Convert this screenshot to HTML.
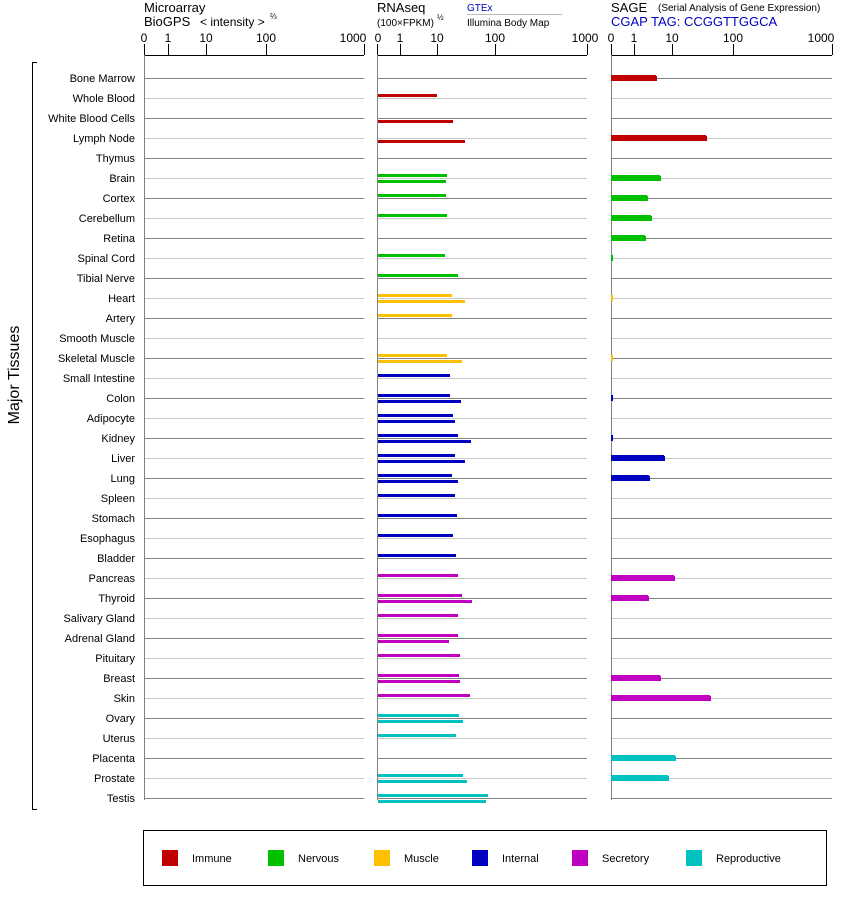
<!DOCTYPE html>
<html><head><meta charset="utf-8"><style>
html,body{margin:0;padding:0;background:#fff;}
svg{display:block;font-family:"Liberation Sans",Arial,sans-serif;}
</style></head><body>
<svg id="s" width="842" height="900" viewBox="0 0 842 900" xmlns="http://www.w3.org/2000/svg">
<g font-size="13" fill="#000">
<text x="144" y="12">Microarray</text>
<text x="144" y="26">BioGPS</text>
<text x="200" y="26" font-size="12">&lt; intensity &gt;</text>
<text x="270" y="19" font-size="8">⅔</text>
<text x="377" y="12">RNAseq</text>
<text x="377" y="26" font-size="10">(100×FPKM)</text>
<text x="437" y="20" font-size="8">½</text>
<text x="467" y="11" font-size="10" fill="#0000c0">GTEx</text>
<line x1="467" y1="14.5" x2="562" y2="14.5" stroke="#bbb"/>
<text x="467" y="26" font-size="10">Illumina Body Map</text>
<text x="611" y="12">SAGE</text>
<text x="658" y="11" font-size="10">(Serial Analysis of Gene Expression)</text>
<text x="611" y="26" font-size="13" fill="#0000c0">CGAP TAG: CCGGTTGGCA</text>
</g>
<g font-size="12" text-anchor="middle">
<text x="144" y="42">0</text><text x="168" y="42">1</text><text x="206" y="42">10</text><text x="266" y="42">100</text><text x="353" y="42">1000</text>
<text x="378" y="42">0</text><text x="400" y="42">1</text><text x="437" y="42">10</text><text x="495" y="42">100</text><text x="585" y="42">1000</text>
<text x="611" y="42">0</text><text x="634" y="42">1</text><text x="672" y="42">10</text><text x="733" y="42">100</text><text x="821" y="42">1000</text>
</g>
<g font-size="11" text-anchor="end" fill="#000">
<text x="135" y="82">Bone Marrow</text>
<text x="135" y="102">Whole Blood</text>
<text x="135" y="122">White Blood Cells</text>
<text x="135" y="142">Lymph Node</text>
<text x="135" y="162">Thymus</text>
<text x="135" y="182">Brain</text>
<text x="135" y="202">Cortex</text>
<text x="135" y="222">Cerebellum</text>
<text x="135" y="242">Retina</text>
<text x="135" y="262">Spinal Cord</text>
<text x="135" y="282">Tibial Nerve</text>
<text x="135" y="302">Heart</text>
<text x="135" y="322">Artery</text>
<text x="135" y="342">Smooth Muscle</text>
<text x="135" y="362">Skeletal Muscle</text>
<text x="135" y="382">Small Intestine</text>
<text x="135" y="402">Colon</text>
<text x="135" y="422">Adipocyte</text>
<text x="135" y="442">Kidney</text>
<text x="135" y="462">Liver</text>
<text x="135" y="482">Lung</text>
<text x="135" y="502">Spleen</text>
<text x="135" y="522">Stomach</text>
<text x="135" y="542">Esophagus</text>
<text x="135" y="562">Bladder</text>
<text x="135" y="582">Pancreas</text>
<text x="135" y="602">Thyroid</text>
<text x="135" y="622">Salivary Gland</text>
<text x="135" y="642">Adrenal Gland</text>
<text x="135" y="662">Pituitary</text>
<text x="135" y="682">Breast</text>
<text x="135" y="702">Skin</text>
<text x="135" y="722">Ovary</text>
<text x="135" y="742">Uterus</text>
<text x="135" y="762">Placenta</text>
<text x="135" y="782">Prostate</text>
<text x="135" y="802">Testis</text>
</g>
<text transform="translate(19,375) rotate(-90)" text-anchor="middle" font-size="16">Major Tissues</text>
<path d="M37 62.5H32.5V809.5H37" fill="none" stroke="#000"/>
<g id="grid"></g>
<rect x="143.5" y="830.5" width="683" height="55" fill="none" stroke="#000"/>
<g font-size="11">
<rect x="162" y="850" width="16" height="16" fill="#c00000"/><text x="192" y="862">Immune</text>
<rect x="268" y="850" width="16" height="16" fill="#00c000"/><text x="298" y="862">Nervous</text>
<rect x="374" y="850" width="16" height="16" fill="#ffc000"/><text x="404" y="862">Muscle</text>
<rect x="472" y="850" width="16" height="16" fill="#0000c0"/><text x="502" y="862">Internal</text>
<rect x="572" y="850" width="16" height="16" fill="#c000c0"/><text x="602" y="862">Secretory</text>
<rect x="686" y="850" width="16" height="16" fill="#00c0c0"/><text x="716" y="862">Reproductive</text>
</g>
</svg>
<script>
var g=document.getElementById('grid'),h='';
var P=[[144,364,[144,168,206,266,364]],[377,587,[377,400,437,495,587]],[611,832,[611,634,672,733,832]]];
P.forEach(function(p){
 h+='<line x1="'+p[0]+'" y1="55.5" x2="'+p[1]+'" y2="55.5" stroke="#000"/>';
 p[2].forEach(function(t){h+='<line x1="'+(t+.5)+'" y1="44" x2="'+(t+.5)+'" y2="55" stroke="#000"/>';});
 for(var i=0;i<37;i++){var y=78+20*i+.5;h+='<line x1="'+p[0]+'" y1="'+y+'" x2="'+p[1]+'" y2="'+y+'" stroke="'+(i%2?'#c8c8c8':'#808080')+'"/>';}
 h+='<line x1="'+(p[0]+.5)+'" y1="55" x2="'+(p[0]+.5)+'" y2="800" stroke="#808080"/>';
});
var C=['#c00000','#00c000','#ffc000','#0000c0','#c000c0','#00c0c0'];
var cat=[0,0,0,0,0,1,1,1,1,1,1,2,2,2,2,3,3,3,3,3,3,3,3,3,3,4,4,4,4,4,4,4,5,5,5,5,5];
var G={1:437,5:447,6:446,7:447,9:445,10:458,11:452,12:452,14:447,15:450,16:450,17:453,18:458,19:455,20:452,21:455,22:457,23:453,24:456,25:458,26:462,27:458,28:458,29:460,30:459,31:470,32:459,33:456,35:463,36:488};
var I={2:453,3:465,5:446,11:465,14:462,16:461,17:455,18:471,19:465,20:458,26:472,28:449,30:460,32:463,35:467,36:486};
var S={0:656,3:706,5:660,6:647,7:651,8:645,9:613,11:613,14:613,16:613,18:613,19:664,20:649,25:674,26:648,30:660,31:710,34:675,35:668};
for(var k in G){var L=78+20*k;h+='<rect x="378" y="'+(L-4)+'" width="'+(G[k]-378)+'" height="3" fill="'+C[cat[k]]+'"/>';}
for(var k in I){var L=78+20*k;h+='<rect x="378" y="'+(L+2)+'" width="'+(I[k]-378)+'" height="3" fill="'+C[cat[k]]+'"/>';}
for(var k in S){var L=78+20*k,w=S[k]-611;h+='<rect x="611" y="'+(L-3)+'" width="'+w+'" height="6" fill="'+C[cat[k]]+'"/>';if(w>4)h+='<rect x="'+(S[k]-1)+'" y="'+(L-2)+'" width="2" height="5" fill="'+C[cat[k]]+'"/>';}
g.innerHTML=h;
</script>
</body></html>
